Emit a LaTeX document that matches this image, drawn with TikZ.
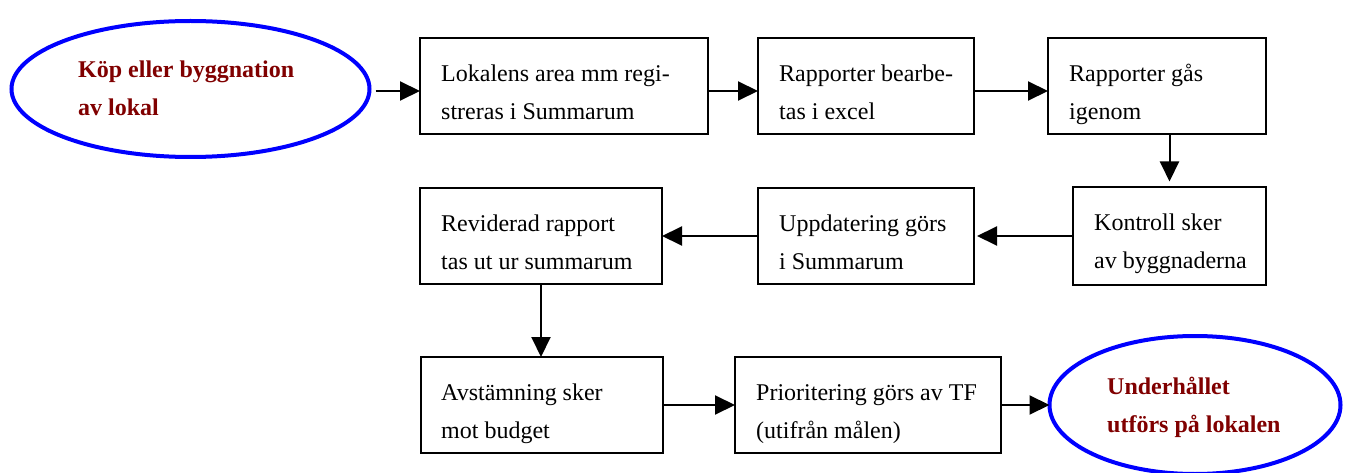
\documentclass[tikz,border=0pt]{standalone}
\usepackage{fontspec}
\setmainfont{Liberation Serif}
\usetikzlibrary{shapes.geometric,arrows.meta}
\definecolor{ovalblue}{RGB}{0,0,255}
\definecolor{ovaltext}{RGB}{128,0,0}
\newcommand\mytwolines[2]{\vtop{\hbox{#1}\hbox{#2}}}
\begin{document}
\begin{tikzpicture}[x=1pt,y=-1pt,
  stepbox/.style={draw=black,line width=2pt,rectangle,inner sep=0pt,outer sep=0pt,minimum height=96pt},
  oval/.style={draw=ovalblue,line width=4pt,ellipse,inner sep=0pt,outer sep=0pt},
  boxtext/.style={anchor=base west,inner sep=0pt,font=\fontsize{24}{38}\selectfont},
  ovaltxt/.style={anchor=base west,inner sep=0pt,text=ovaltext,font=\fontsize{24}{38}\selectfont\bfseries},
  arr/.style={line width=2pt,-{Triangle[length=20pt,width=19pt]}}]
\useasboundingbox (0,0) rectangle (1347,473);
% shapes
\node[oval,minimum width=358pt,minimum height=136pt] (E1) at (190.5,89) {};
\node[stepbox,minimum width=288pt] (A) at (564,86) {};
\node[stepbox,minimum width=216pt] (B) at (866,86) {};
\node[stepbox,minimum width=218pt] (C) at (1157,86) {};
\node[stepbox,minimum width=242pt] (D) at (541,236) {};
\node[stepbox,minimum width=216pt] (E) at (866,236) {};
\node[stepbox,minimum width=193pt,minimum height=97pt] (F) at (1169.5,236) {};
\node[stepbox,minimum width=242pt] (G) at (542,405) {};
\node[stepbox,minimum width=266pt] (H) at (868,405) {};
\node[oval,minimum width=291pt,minimum height=138pt] (E2) at (1195,405) {};
% texts
\node[ovaltxt] (tE1) at (78,78) {\mytwolines{Köp eller byggnation}{av lokal}};
\node[boxtext] (tA) at (441,82) {\mytwolines{Lokalens area mm regi-}{streras i Summarum}};
\node[boxtext] (tB) at (779,82) {\mytwolines{Rapporter bearbe-}{tas i excel}};
\node[boxtext] (tC) at (1069,82) {\mytwolines{Rapporter gås}{igenom}};
\node[boxtext] (tD) at (441,232) {\mytwolines{Reviderad rapport}{tas ut ur summarum}};
\node[boxtext] (tE) at (779,232) {\mytwolines{Uppdatering görs}{i Summarum}};
\node[boxtext] (tF) at (1094,231) {\mytwolines{Kontroll sker}{av byggnaderna}};
\node[boxtext] (tG) at (441,400) {\mytwolines{Avstämning sker}{mot budget}};
\node[boxtext] (tH) at (756,400) {\mytwolines{Prioritering görs av TF}{(utifrån målen)}};
\node[ovaltxt] (tE2) at (1107,394) {\mytwolines{Underhållet}{utförs på lokalen}};
% connectors
\draw[arr] ([xshift=6pt,yshift=-2pt]E1.east) -- ([yshift=-5pt]A.west);
\draw[arr] ([yshift=-5pt]A.east) -- ([yshift=-5pt]B.west);
\draw[arr] ([yshift=-5pt]B.east) -- ([yshift=-5pt]C.west);
\draw[arr] (C.south -| F.north) -- ([yshift=6pt]F.north);
\draw[arr] (F.west) -- ([xshift=3pt]E.east);
\draw[arr] (E.west) -- (D.east);
\draw[arr] (D.south) -- (D.south |- G.north);
\draw[arr] (G.east) -- (H.west);
\draw[arr] (H.east) -- (E2.west);
\end{tikzpicture}
\end{document}
